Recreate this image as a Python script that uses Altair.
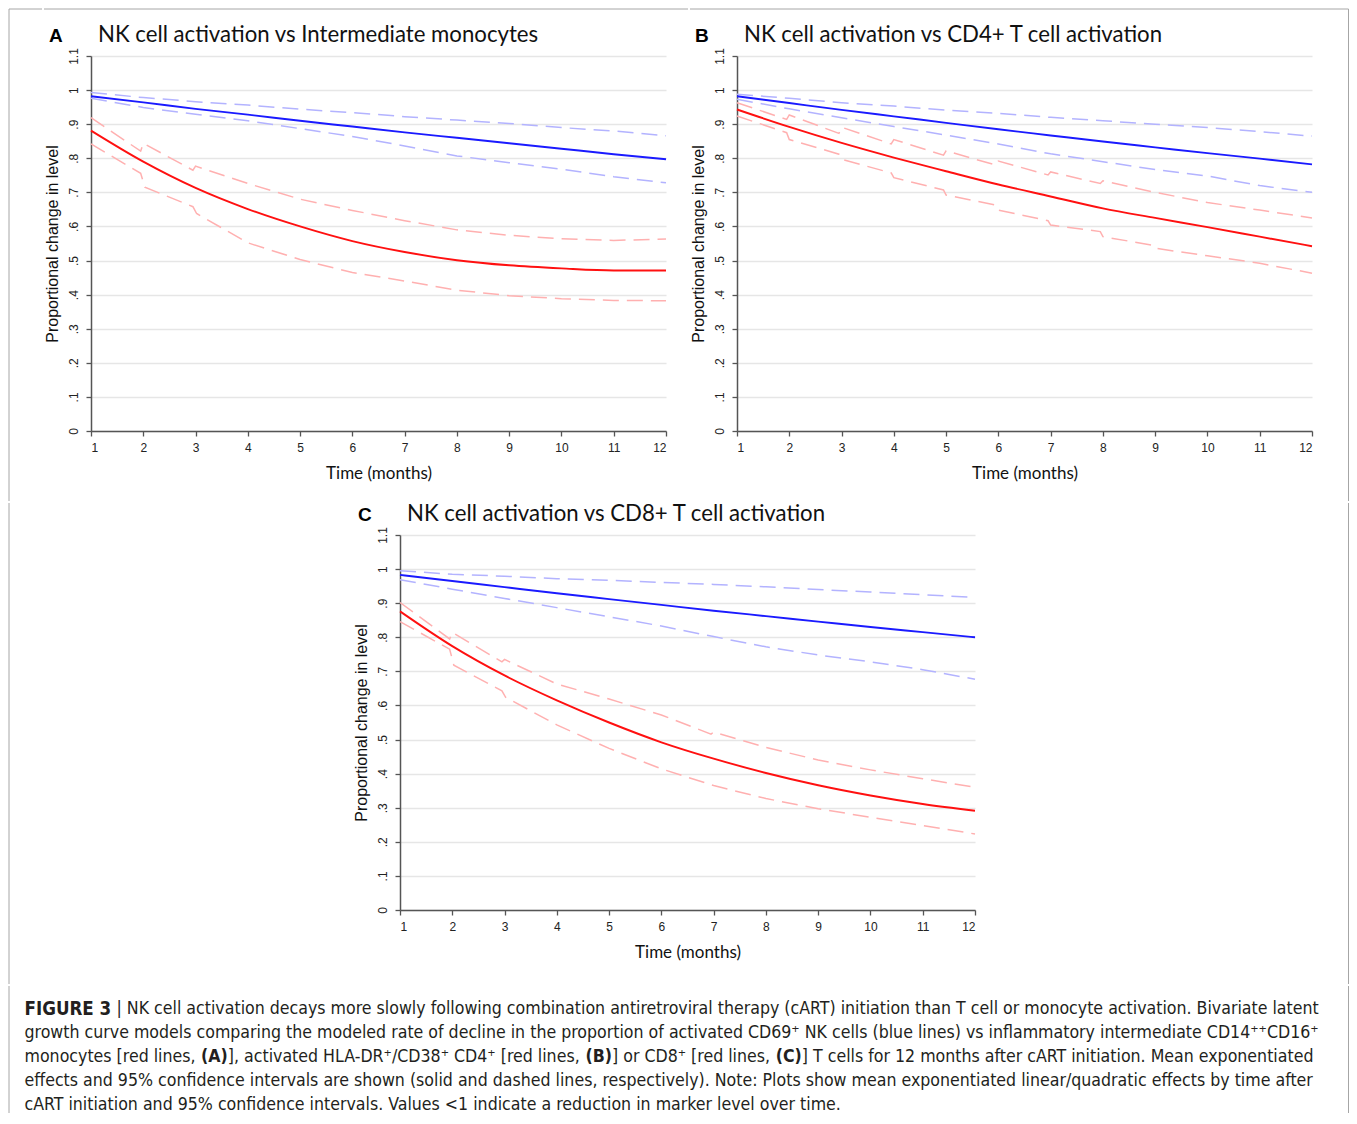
import altair as alt
import pandas as pd

months = list(range(1, 13))
y_ticks = [0, 0.1, 0.2, 0.3, 0.4, 0.5, 0.6, 0.7, 0.8, 0.9, 1.0, 1.1]

# ---------------- Panel A: NK vs intermediate monocytes ----------------
a_nk_mean = [0.982, 0.964, 0.945, 0.928, 0.910, 0.893, 0.876, 0.860, 0.844, 0.828, 0.812, 0.797]
a_nk_hi = [0.993, 0.978, 0.966, 0.956, 0.944, 0.934, 0.922, 0.912, 0.902, 0.890, 0.880, 0.866]
a_nk_lo = [0.976, 0.949, 0.929, 0.910, 0.887, 0.864, 0.836, 0.807, 0.787, 0.768, 0.746, 0.728]
a_red_mean = [0.881, 0.790, 0.713, 0.651, 0.600, 0.557, 0.525, 0.501, 0.486, 0.477, 0.471, 0.471]
a_red_hi_t = [1, 1.95, 2, 2.95, 3, 4, 5, 6, 7, 8, 9, 10, 11, 12]
a_red_hi = [0.919, 0.821, 0.844, 0.765, 0.777, 0.726, 0.680, 0.647, 0.617, 0.590, 0.574, 0.564, 0.559, 0.563]
a_red_lo_t = [1, 1.95, 2.03, 2.95, 3.02, 4, 5, 6, 7, 8, 9, 10, 11, 12]
a_red_lo = [0.842, 0.756, 0.715, 0.658, 0.638, 0.552, 0.503, 0.465, 0.440, 0.413, 0.397, 0.388, 0.383, 0.382]

# ---------------- Panel B: NK vs CD4+ T cells ----------------
b_nk_mean = [0.982, 0.962, 0.942, 0.923, 0.904, 0.885, 0.867, 0.849, 0.832, 0.815, 0.799, 0.782]
b_nk_hi = [0.988, 0.976, 0.963, 0.953, 0.941, 0.932, 0.920, 0.910, 0.900, 0.890, 0.878, 0.865]
b_nk_lo = [0.973, 0.945, 0.919, 0.893, 0.868, 0.842, 0.813, 0.790, 0.767, 0.748, 0.720, 0.700]
b_red_mean = [0.943, 0.892, 0.845, 0.802, 0.762, 0.723, 0.688, 0.653, 0.625, 0.598, 0.570, 0.542]
b_red_hi_t = [1, 1.95, 2, 2.95, 3, 3.95, 4, 4.95, 5, 5.95, 6, 6.95, 7, 7.95, 8, 9, 10, 11, 12]
b_red_hi = [0.963, 0.914, 0.927, 0.873, 0.891, 0.842, 0.855, 0.809, 0.822, 0.780, 0.792,
            0.751, 0.760, 0.726, 0.734, 0.700, 0.670, 0.648, 0.625]
b_red_lo_t = [1, 1.95, 2, 2.95, 3, 3.95, 4, 4.95, 5, 5.95, 6, 6.95, 7, 7.95, 8, 8.95, 9, 10, 11, 12]
b_red_lo = [0.924, 0.875, 0.855, 0.812, 0.797, 0.757, 0.743, 0.707, 0.692, 0.663, 0.648,
            0.617, 0.604, 0.585, 0.570, 0.545, 0.536, 0.514, 0.492, 0.463]

# ---------------- Panel C: NK vs CD8+ T cells ----------------
c_nk_mean = [0.983, 0.965, 0.947, 0.929, 0.912, 0.895, 0.878, 0.862, 0.846, 0.830, 0.815, 0.800]
c_nk_hi = [0.995, 0.985, 0.979, 0.972, 0.967, 0.961, 0.955, 0.948, 0.940, 0.933, 0.925, 0.917]
c_nk_lo = [0.969, 0.941, 0.914, 0.887, 0.860, 0.833, 0.802, 0.772, 0.748, 0.728, 0.705, 0.677]
c_red_mean = [0.876, 0.774, 0.688, 0.615, 0.550, 0.492, 0.444, 0.402, 0.366, 0.336, 0.311, 0.291]
c_red_hi_t = [1, 1.95, 2, 2.95, 3, 4, 5, 6, 6.95, 7, 8, 9, 10, 11, 12]
c_red_hi = [0.902, 0.795, 0.814, 0.728, 0.735, 0.663, 0.619, 0.572, 0.516, 0.522, 0.477, 0.440, 0.411, 0.385, 0.360]
c_red_lo_t = [1, 1.95, 2.03, 2.95, 3.02, 4, 5, 6, 7, 8, 9, 10, 11, 12]
c_red_lo = [0.846, 0.765, 0.718, 0.643, 0.624, 0.543, 0.474, 0.414, 0.365, 0.327, 0.297, 0.272, 0.248, 0.223]

panel_titles = {
    "A": "NK cell activation vs Intermediate monocytes",
    "B": "NK cell activation vs CD4+ T cell activation",
    "C": "NK cell activation vs CD8+ T cell activation",
}

# caption pieces: line, start offset in px, bold?, text
cap_line = [0, 0, 1, 2, 2, 2, 2, 2, 2, 2, 3, 4]
cap_x = [0, 92, 0, 0, 176.6, 203.3, 561.0, 587.5, 751.2, 777.3, 0, 0]
cap_bold = [True, False, False, False, True, False, True, False, True, False, False, False]
cap_text = [
    "FIGURE 3",
    "| NK cell activation decays more slowly following combination antiretroviral therapy (cART) initiation than T cell or monocyte activation. Bivariate latent",
    "growth curve models comparing the modeled rate of decline in the proportion of activated CD69\u207a NK cells (blue lines) vs inflammatory intermediate CD14\u207a\u207aCD16\u207a",
    "monocytes [red lines,",
    "(A)",
    "], activated HLA-DR\u207a/CD38\u207a CD4\u207a [red lines,",
    "(B)",
    "] or CD8\u207a [red lines,",
    "(C)",
    "] T cells for 12 months after cART initiation. Mean exponentiated",
    "effects and 95% confidence intervals are shown (solid and dashed lines, respectively). Note: Plots show mean exponentiated linear/quadratic effects by time after",
    "cART initiation and 95% confidence intervals. Values <1 indicate a reduction in marker level over time.",
]

rows = []


def add(panel, series, group, ts, vals):
    for t, v in zip(ts, vals):
        rows.append({"panel": panel, "series": series, "group": group, "t": t, "value": v})


add("A", "nk_mean", "nk_mean", months, a_nk_mean)
add("A", "nk_hi", "nk_ci", months, a_nk_hi)
add("A", "nk_lo", "nk_ci", months, a_nk_lo)
add("A", "red_mean", "red_mean", months, a_red_mean)
add("A", "red_hi", "red_ci", a_red_hi_t, a_red_hi)
add("A", "red_lo", "red_ci", a_red_lo_t, a_red_lo)
add("B", "nk_mean", "nk_mean", months, b_nk_mean)
add("B", "nk_hi", "nk_ci", months, b_nk_hi)
add("B", "nk_lo", "nk_ci", months, b_nk_lo)
add("B", "red_mean", "red_mean", months, b_red_mean)
add("B", "red_hi", "red_ci", b_red_hi_t, b_red_hi)
add("B", "red_lo", "red_ci", b_red_lo_t, b_red_lo)
add("C", "nk_mean", "nk_mean", months, c_nk_mean)
add("C", "nk_hi", "nk_ci", months, c_nk_hi)
add("C", "nk_lo", "nk_ci", months, c_nk_lo)
add("C", "red_mean", "red_mean", months, c_red_mean)
add("C", "red_hi", "red_ci", c_red_hi_t, c_red_hi)
add("C", "red_lo", "red_ci", c_red_lo_t, c_red_lo)

df = pd.DataFrame(rows)

color_scale = alt.Scale(
    domain=["nk_mean", "nk_ci", "red_mean", "red_ci"],
    range=["#1a1aff", "#b3b3ff", "#ff1010", "#ffb0b0"],
)

SANS = "Liberation Sans, Arial, Helvetica, sans-serif"
TITLE_FONT = "Lato, Open Sans, sans-serif"
CAP_FONT = "DejaVu Sans Condensed, Liberation Sans Narrow, sans-serif"
BORDER = "#a6a6a6"
dummy = pd.DataFrame({"d": [0]})

y_label_expr = (
    "datum.value < 0.05 ? '0' : (datum.value < 0.95 ? "
    "replace(format(datum.value, '.1f'), '0.', '.') : format(datum.value, '.2~f'))"
)


def vrule(x, y1, y2):
    return alt.Chart(dummy).mark_rule(color=BORDER, strokeWidth=1).encode(
        x=alt.value(x), y=alt.value(y1), y2=alt.value(y2))


def hrule(x1, x2, y):
    return alt.Chart(dummy).mark_rule(color=BORDER, strokeWidth=1).encode(
        x=alt.value(x1), x2=alt.value(x2), y=alt.value(y))


def panel(pid, frame):
    d = df[df["panel"] == pid]
    x = alt.X(
        "t:Q",
        scale=alt.Scale(domain=[1, 12], nice=False, zero=False),
        axis=alt.Axis(
            values=months, title="Time (months)", grid=False, format="d",
            labelPadding=6,
            titleFont=TITLE_FONT, titleFontSize=17, titleFontWeight="normal",
            titleColor="#111", titlePadding=12,
        ),
    )
    y = alt.Y(
        "value:Q",
        scale=alt.Scale(domain=[0, 1.1], nice=False),
        axis=alt.Axis(
            values=y_ticks, title="Proportional change in level", grid=True,
            labelExpr=y_label_expr, labelAngle=270, labelAlign="center",
            labelBaseline="bottom", labelPadding=6,
            titleFont=SANS, titleFontSize=16, titleFontWeight="normal",
            titleColor="#111", titlePadding=7,
        ),
    )
    base = alt.Chart(d)
    dashed = base.transform_filter("indexof(datum.group, '_ci') >= 0").mark_line(
        strokeDash=[16, 8], strokeWidth=1.5
    ).encode(x=x, y=y, color=alt.Color("group:N", scale=color_scale, legend=None),
             detail="series:N")
    solid = base.transform_filter("indexof(datum.group, '_mean') >= 0").mark_line(
        strokeWidth=1.9, interpolate="monotone"
    ).encode(x=x, y=y, color=alt.Color("group:N", scale=color_scale, legend=None),
             detail="series:N")
    head = pd.DataFrame({"letter": [pid], "title": [panel_titles[pid]]})
    letter = alt.Chart(head).mark_text(
        font=SANS, fontSize=19, fontWeight="bold", align="left", baseline="alphabetic",
        color="#000"
    ).encode(x=alt.value(-42), y=alt.value(-14), text="letter:N")
    title = alt.Chart(head).mark_text(
        font=TITLE_FONT, fontSize=22.2, align="left", baseline="alphabetic", color="#111"
    ).encode(x=alt.value(7), y=alt.value(-14), text="title:N")
    return alt.layer(dashed, solid, letter, title, *frame).properties(width=575, height=375)


# thin grey frame round the whole figure, split over the pieces of the layout
spacer1 = alt.layer(vrule(0, -47, 445), hrule(0, 33, -47)).properties(width=33, height=10)
frame_a = [hrule(-47, 597, -47)]
frame_b = [hrule(-47, 611.5, -47), vrule(611.5, -47, 445)]
spacer2 = alt.layer(vrule(0, -32, 449)).properties(width=344, height=10)
frame_c = [vrule(948.5, -32, 449)]

row1 = alt.hconcat(spacer1, panel("A", frame_a), panel("B", frame_b), spacing=0)
row2 = alt.hconcat(spacer2, panel("C", frame_c), spacing=0)

cap_df = pd.DataFrame({
    "line": cap_line,
    "xo": cap_x,
    "bold": cap_bold,
    "text": cap_text,
})
cap_base = alt.Chart(cap_df)
cap_y = alt.Y("line:O", axis=None,
              scale=alt.Scale(domain=[0, 1, 2, 3, 4], range=[22.5, 118.5], padding=0))
cap_xenc = alt.X("xo:Q", scale=None, axis=None)
cap_b = cap_base.transform_filter("datum.bold").transform_calculate(
    fs="datum.line == 0 ? 18.6 : 17.6"
).mark_text(
    font=CAP_FONT, fontWeight="bold", align="left", baseline="middle",
    color="#231f20", dx=15.5
).encode(x=cap_xenc, y=cap_y, text="text:N", size=alt.Size("fs:Q", scale=None, legend=None))
cap_r = cap_base.transform_filter("!datum.bold").mark_text(
    font=CAP_FONT, fontSize=17.6, align="left", baseline="middle", color="#231f20", dx=15.5
).encode(x=cap_xenc, y=cap_y, text="text:N")
caption = alt.layer(
    cap_b, cap_r, vrule(0, 0, 127), vrule(1339.5, 0, 127)
).properties(width=1330, height=127)

chart = alt.vconcat(row1, row2, caption, spacing=0).properties(
    padding={"left": 0, "top": 0, "right": 0, "bottom": 0}
).configure_view(stroke=None).configure_axis(
    domainColor="#555", domainWidth=1.5, tickColor="#555", tickWidth=1.3, tickSize=5,
    labelFont=SANS, labelFontSize=12, labelColor="#222",
    gridColor="#e6e6e6", gridWidth=1.5,
)

chart.save("out.html", embed_options={"renderer": "svg", "actions": False})
